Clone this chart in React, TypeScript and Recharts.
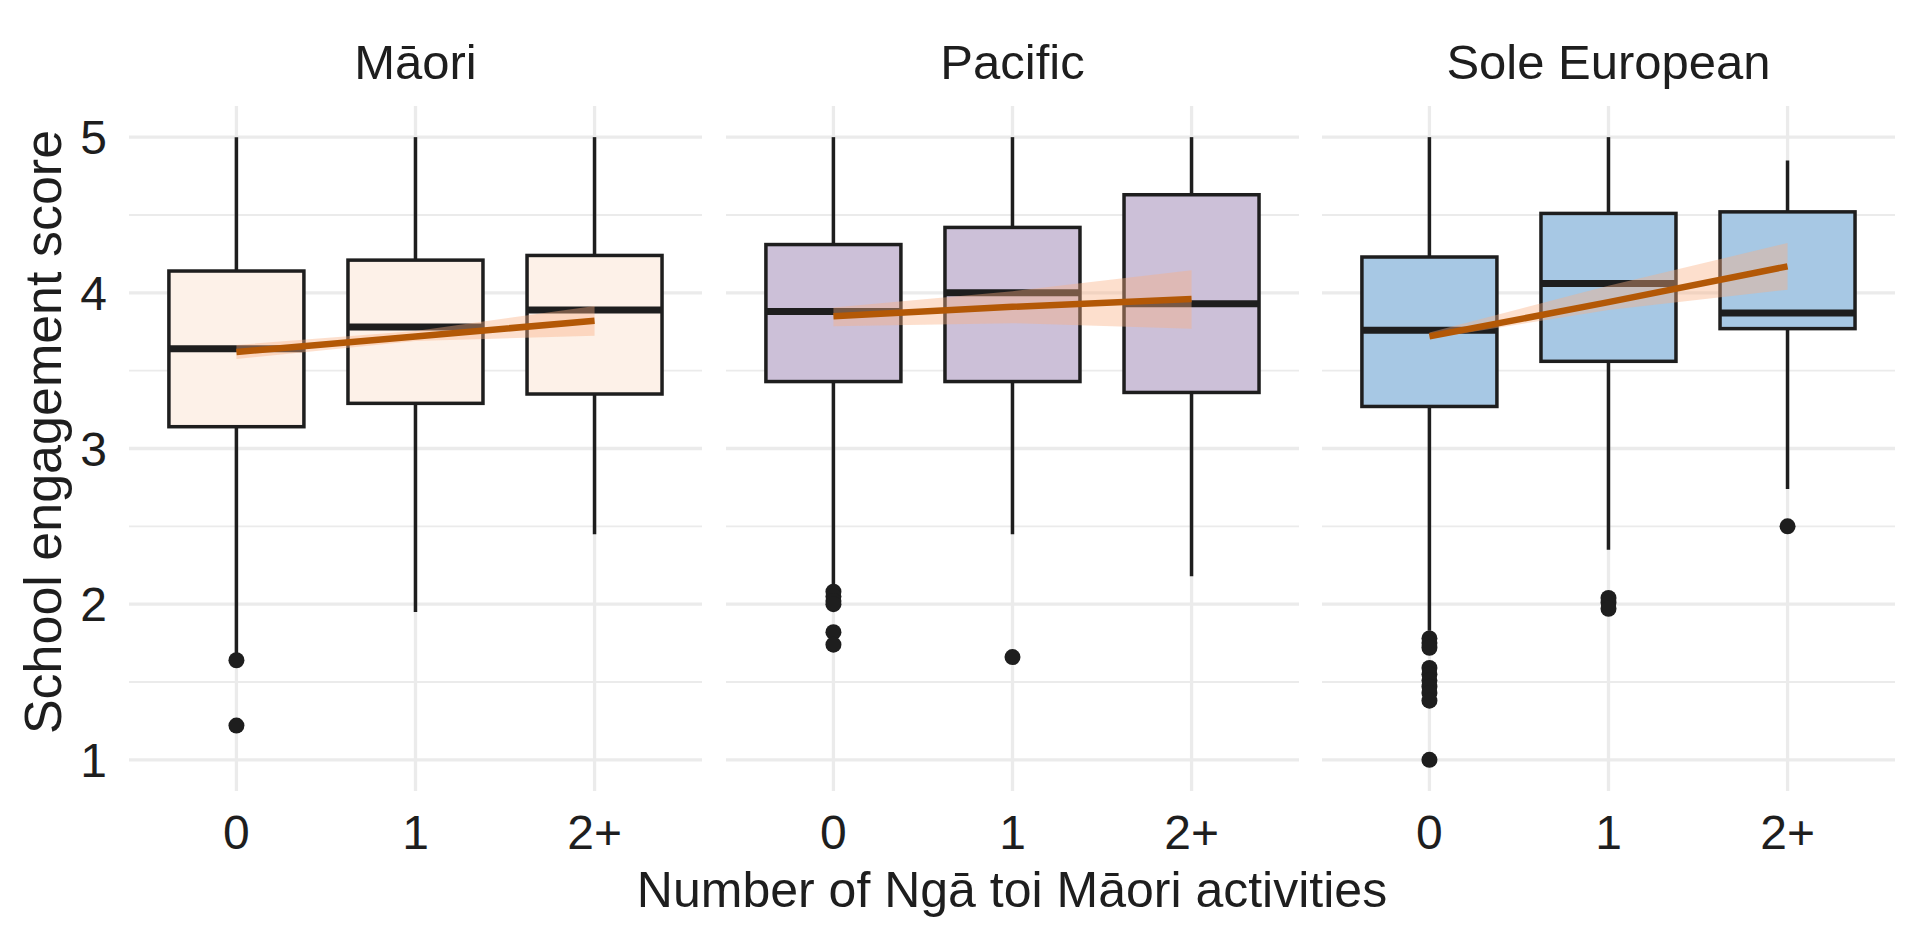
import React from "react";
import { ComposedChart, Bar, Area, Line, Scatter, XAxis, YAxis, CartesianGrid } from "recharts";

// facets and categories
const groups = ["Māori", "Pacific", "Sole European"];
const activityLabels = ["0", "1", "2+"];
const boxFills = ["#FDF1E8", "#CCC0D8", "#A7C8E4"];

// box plot statistics, one row per facet, one value per category (0, 1, 2+)
const whiskerLow = [
  [1.67, 1.95, 2.45],
  [2.1, 2.45, 2.18],
  [1.83, 2.35, 2.74],
];
const lowerQuartile = [
  [3.14, 3.29, 3.35],
  [3.43, 3.43, 3.36],
  [3.27, 3.56, 3.77],
];
const medians = [
  [3.64, 3.78, 3.89],
  [3.88, 4.0, 3.93],
  [3.76, 4.06, 3.87],
];
const upperQuartile = [
  [4.14, 4.21, 4.24],
  [4.31, 4.42, 4.63],
  [4.23, 4.51, 4.52],
];
const whiskerHigh = [
  [5.0, 5.0, 5.0],
  [5.0, 5.0, 5.0],
  [5.0, 5.0, 4.85],
];
const outlierValues = [
  [[1.64, 1.22], [], []],
  [[2.08, 2.05, 2.02, 2.0, 1.82, 1.74], [1.66], []],
  [[1.78, 1.75, 1.72, 1.59, 1.55, 1.51, 1.47, 1.43, 1.38, 1.0], [2.04, 2.01, 1.97], [2.5]],
];

// linear fit and its confidence band
const fitValues = [
  [3.62, 3.72, 3.82],
  [3.85, 3.91, 3.96],
  [3.72, 3.94, 4.17],
];
const bandLow = [
  [3.575, 3.69, 3.725],
  [3.785, 3.805, 3.77],
  [3.705, 3.89, 4.02],
];
const bandHigh = [
  [3.665, 3.755, 3.915],
  [3.905, 4.01, 4.145],
  [3.745, 4.045, 4.32],
];

const majorY = [1, 2, 3, 4, 5];
const minorY = [1.5, 2.5, 3.5, 4.5];
const xPositions = [1, 2, 3];

const ink = "#1E1E1E";
const font = "'Liberation Sans', Arial, sans-serif";

const BoxShape = (props: any) => {
  const { x, y, width, height, payload, fill } = props;
  if (!payload || payload.q1 == null) return null;
  const top = Math.min(y, y + height);
  const h = Math.abs(height);
  const ppu = h / (payload.q3 - payload.q1);
  const toY = (v: number) => top + (payload.q3 - v) * ppu;
  const cx = x + width / 2;
  return (
    <g>
      <line x1={cx} x2={cx} y1={toY(payload.hi)} y2={top} stroke={ink} strokeWidth={3.5} />
      <line x1={cx} x2={cx} y1={top + h} y2={toY(payload.lo)} stroke={ink} strokeWidth={3.5} />
      <rect x={x} y={top} width={width} height={h} fill={fill} stroke={ink} strokeWidth={3.5} />
      <line x1={x} x2={x + width} y1={toY(payload.med)} y2={toY(payload.med)} stroke={ink} strokeWidth={7} />
    </g>
  );
};

const Dot = (props: any) => <circle cx={props.cx} cy={props.cy} r={8} fill={ink} />;

function Panel({ index, showAxis }: { index: number; showAxis: boolean }) {
  const data = activityLabels.map((_, i) => ({
    x: i + 1,
    q1: lowerQuartile[index][i],
    q3: upperQuartile[index][i],
    med: medians[index][i],
    lo: whiskerLow[index][i],
    hi: whiskerHigh[index][i],
    box: [lowerQuartile[index][i], upperQuartile[index][i]],
    band: [bandLow[index][i], bandHigh[index][i]],
    fit: fitValues[index][i],
  }));
  const points = outlierValues[index].flatMap((vals, i) => vals.map((v) => ({ x: i + 1, y: v })));

  return (
    <ComposedChart
      width={showAxis ? 702 : 573}
      height={945}
      data={data}
      margin={{ top: 106, right: 0, bottom: 94, left: 0 }}
    >
      <CartesianGrid horizontalValues={minorY} vertical={false} stroke="#EBEBEB" strokeWidth={1.8} />
      <CartesianGrid horizontalValues={majorY} verticalValues={xPositions} stroke="#EBEBEB" strokeWidth={3.3} />
      <XAxis
        dataKey="x"
        type="number"
        domain={[0.4, 3.6]}
        ticks={xPositions}
        interval={0}
        allowDataOverflow
        tickFormatter={(v: number) => activityLabels[v - 1]}
        axisLine={false}
        tickLine={false}
        tickMargin={18}
        height={60}
        tick={{ fontSize: 48, fill: ink, fontFamily: font }}
      />
      <YAxis
        type="number"
        domain={[0.8, 5.2]}
        ticks={majorY}
        interval={0}
        allowDataOverflow
        hide={!showAxis}
        width={129}
        axisLine={false}
        tickLine={false}
        tickMargin={16}
        tick={{ fontSize: 48, fill: ink, fontFamily: font }}
      />
      <Bar dataKey="box" barSize={135} fill={boxFills[index]} shape={<BoxShape />} isAnimationActive={false} zIndex={300} />
      <Scatter data={points} dataKey="y" shape={<Dot />} isAnimationActive={false} zIndex={350} />
      <Area dataKey="band" type="linear" stroke="none" fill="#F9B083" fillOpacity={0.4} isAnimationActive={false} zIndex={400} />
      <Line dataKey="fit" type="linear" stroke="#B35806" strokeWidth={6.5} dot={false} isAnimationActive={false} zIndex={500} />
    </ComposedChart>
  );
}

export default function App() {
  const lefts = [0, 726, 1322];
  const centers = [415.5, 1012.5, 1608.5];
  return (
    <div style={{ position: "relative", width: 1920, height: 945, background: "#fff", fontFamily: font }}>
      <style>{"body{margin:0}"}</style>
      {groups.map((g, i) => (
        <div key={g} style={{ position: "absolute", left: lefts[i], top: 0 }}>
          <Panel index={i} showAxis={i === 0} />
        </div>
      ))}
      <svg width={1920} height={945} style={{ position: "absolute", left: 0, top: 0, pointerEvents: "none" }}>
        {groups.map((g, i) => (
          <text key={g} x={centers[i]} y={79} textAnchor="middle" fontSize={49} fill={ink} fontFamily={font}>
            {g}
          </text>
        ))}
        <text x={1012} y={907} textAnchor="middle" fontSize={50} fill={ink} fontFamily={font}>
          Number of Ngā toi Māori activities
        </text>
        <text transform="translate(61,432) rotate(-90)" textAnchor="middle" fontSize={52} fill={ink} fontFamily={font}>
          School engagement score
        </text>
      </svg>
    </div>
  );
}
